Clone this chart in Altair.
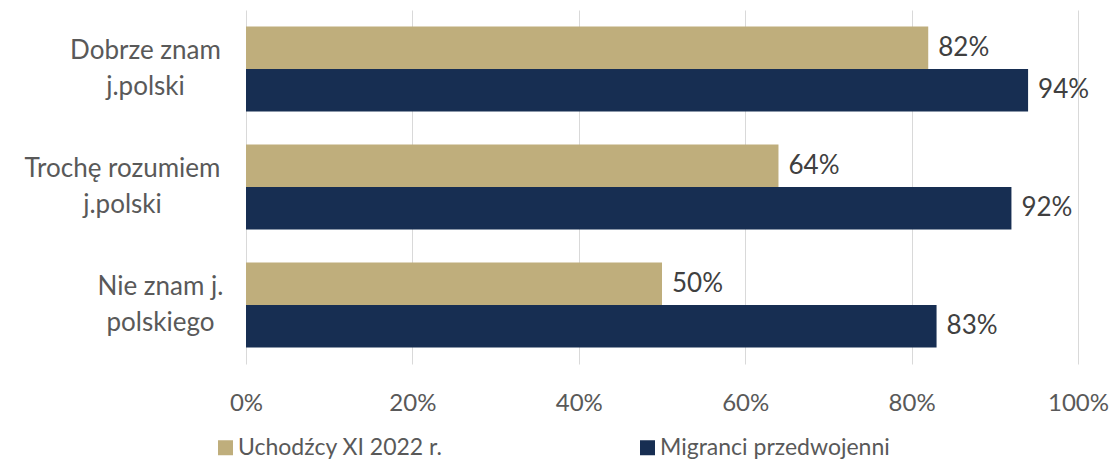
import altair as alt
import pandas as pd

categories = ["Dobrze znam\nj.polski", "Trochę rozumiem\nj.polski", "Nie znam j.\npolskiego"]
series = ["Uchodźcy XI 2022 r.", "Migranci przedwojenni"]
uchodzcy = [0.82, 0.64, 0.50]
migranci = [0.94, 0.92, 0.83]
x_ticks = [0, 0.2, 0.4, 0.6, 0.8, 1.0]
colors = ["#BFAE7C", "#172E52"]

rows = []
for i, c in enumerate(categories):
    rows.append({"cat": c, "series": series[0], "value": uchodzcy[i]})
    rows.append({"cat": c, "series": series[1], "value": migranci[i]})
df = pd.DataFrame(rows)

FONT = "Lato"
FS = 26

# centre each two-line label block so its longest line ends at the same x
label_pad = {
    "condition": [
        {"test": "indexof(datum.value, 'Trochę') >= 0", "value": 124},
        {"test": "indexof(datum.value, 'Nie znam') >= 0", "value": 86},
    ],
    "value": 101,
}

y_enc = alt.Y(
    "cat:N",
    sort=categories,
    scale=alt.Scale(paddingInner=0.28, paddingOuter=0.14),
    axis=alt.Axis(
        title=None,
        labelExpr="split(datum.label, '\\n')",
        labelAlign="center",
        labelPadding=label_pad,
        labelOffset=-18,
        labelFontSize=FS,
        labelColor="#595959",
        labelFont=FONT,
        labelLineHeight=36,
        labelLimit=400,
        ticks=False,
        domain=False,
        grid=False,
    ),
)
yoff = alt.YOffset("series:N", sort=series)
x_enc = alt.X(
    "value:Q",
    scale=alt.Scale(domain=[0, 1]),
    axis=alt.Axis(
        title=None,
        values=x_ticks,
        format=".0%",
        labelFontSize=24,
        labelColor="#595959",
        labelFont=FONT,
        labelPadding=27,
        labelFlush=False,
        labelOverlap=False,
        ticks=False,
        domain=False,
        grid=True,
        gridColor="#D9D9D9",
        gridWidth=1,
    ),
)

bars = alt.Chart(df).mark_bar().encode(
    x=x_enc,
    y=y_enc,
    yOffset=yoff,
    color=alt.Color(
        "series:N",
        sort=series,
        scale=alt.Scale(domain=series, range=colors),
        legend=alt.Legend(
            title=None,
            orient="none",
            legendX=-32,
            legendY=426,
            direction="horizontal",
            symbolType="square",
            symbolSize=225,
            symbolStrokeWidth=0,
            labelFontSize=23,
            labelFont=FONT,
            labelColor="#595959",
            labelOffset=1,
            columnPadding=193,
            labelLimit=400,
        ),
    ),
)

labels = alt.Chart(df).mark_text(
    align="left", baseline="middle", dx=10, fontSize=FS, font=FONT, color="#404040"
).encode(
    x="value:Q",
    y=alt.Y("cat:N", sort=categories),
    yOffset=yoff,
    text=alt.Text("value:Q", format=".0%"),
)

chart = (
    alt.layer(bars, labels)
    .properties(
        width=832,
        height=354,
        autosize=alt.AutoSizeParams(type="none"),
        padding={"left": 238, "top": 2, "right": 32, "bottom": 96},
    )
    .configure_view(stroke=None)
)

chart.save("out.html", embed_options={"renderer": "svg", "actions": False})
